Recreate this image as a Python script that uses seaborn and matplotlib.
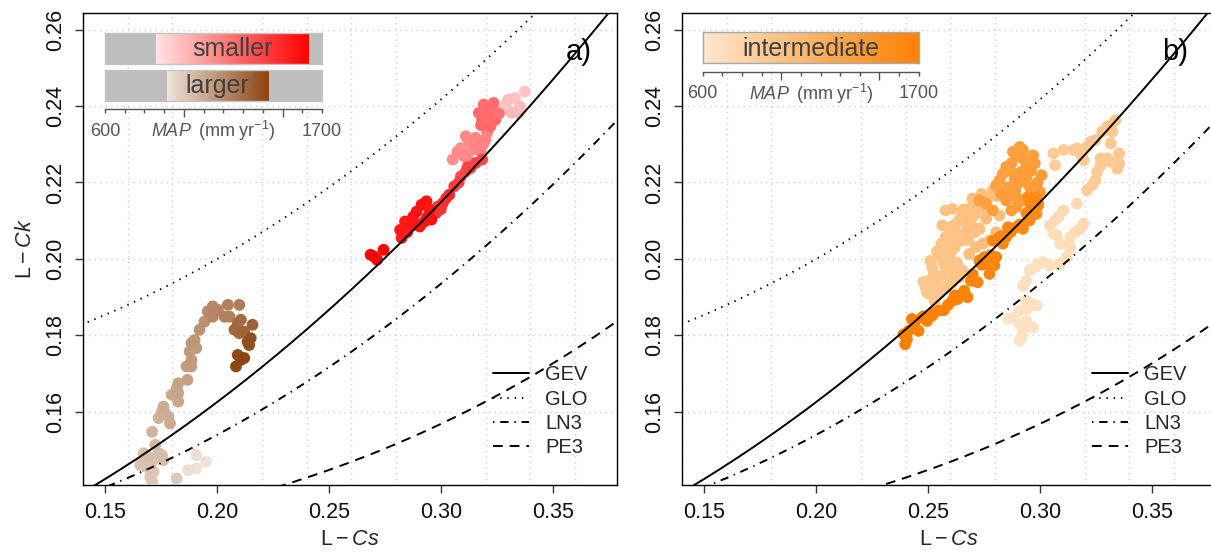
import numpy as np
import pandas as pd
import matplotlib
matplotlib.use("Agg")
import matplotlib.pyplot as plt
import seaborn as sns
from matplotlib.colors import LinearSegmentedColormap, Normalize

sns.set_theme(style="white")
plt.rcParams['font.family'] = ['Liberation Sans', 'DejaVu Sans']
plt.rcParams['mathtext.fontset'] = 'custom'
plt.rcParams['mathtext.rm'] = 'Liberation Sans'
plt.rcParams['mathtext.it'] = 'Liberation Sans:italic'
plt.rcParams['lines.scale_dashes'] = False

# ---------------------------------------------------------------- data
# smaller catchments (panel a, red)
small_lcs = [0.3273, 0.3303, 0.3332, 0.3354, 0.3376, 0.3317, 0.3347, 0.3290,
             0.3053, 0.3075, 0.3112, 0.3126, 0.3156, 0.3170, 0.3178, 0.3200, 0.3207,
             0.3090, 0.3100, 0.3140, 0.3150, 0.3190, 0.3120,
             0.3170, 0.3185, 0.3192, 0.3214, 0.3236, 0.3244, 0.3222, 0.3205,
             0.3230, 0.3180, 0.3260,
             0.3090, 0.3112, 0.3134, 0.3156, 0.3185, 0.3060, 0.3080, 0.3120,
             0.2979, 0.2987, 0.3009, 0.3024, 0.3038, 0.3000,
             0.2825, 0.2818, 0.2840, 0.2862, 0.2877, 0.2892, 0.2914, 0.2936,
             0.2950, 0.2906, 0.2928, 0.2958, 0.2850, 0.2890, 0.2940,
             0.2686, 0.2700, 0.2715, 0.2744]
small_lck = [0.2390, 0.2417, 0.2421, 0.2399, 0.2438, 0.2382, 0.2382, 0.2405,
             0.2260, 0.2281, 0.2321, 0.2308, 0.2317, 0.2290, 0.2281, 0.2312, 0.2330,
             0.2290, 0.2270, 0.2285, 0.2300, 0.2300, 0.2260,
             0.2382, 0.2364, 0.2404, 0.2386, 0.2408, 0.2364, 0.2347, 0.2370,
             0.2395, 0.2350, 0.2380,
             0.2216, 0.2229, 0.2238, 0.2251, 0.2260, 0.2190, 0.2200, 0.2240,
             0.2120, 0.2137, 0.2146, 0.2159, 0.2168, 0.2130,
             0.2055, 0.2076, 0.2098, 0.2085, 0.2111, 0.2124, 0.2142, 0.2151,
             0.2129, 0.2085, 0.2098, 0.2103, 0.2070, 0.2090, 0.2110,
             0.2011, 0.2007, 0.1998, 0.2024]
small_map = [990, 985, 975, 1000, 960, 1010, 995, 980,
             1150, 1160, 1170, 1165, 1180, 1190, 1200, 1175, 1185,
             1155, 1160, 1170, 1175, 1190, 1165,
             1260, 1270, 1250, 1265, 1255, 1275, 1280, 1265,
             1260, 1275, 1240,
             1380, 1390, 1400, 1410, 1395, 1420, 1415, 1405,
             1450, 1460, 1470, 1480, 1490, 1465,
             1540, 1545, 1550, 1555, 1560, 1565, 1570, 1575,
             1560, 1570, 1580, 1585, 1550, 1560, 1570,
             1620, 1625, 1630, 1632]

# larger catchments (panel a, brown)
large_lcs = [0.1907, 0.1870, 0.1951, 0.1907,
             0.1819, 0.1709, 0.1701, 0.1716, 0.1656, 0.1679, 0.1665, 0.1709,
             0.1672, 0.1694, 0.1738, 0.1753, 0.1760,
             0.1723, 0.1709, 0.1738, 0.1753, 0.1767, 0.1782, 0.1789, 0.1760,
             0.1797, 0.1826, 0.1819, 0.1826, 0.1826, 0.1867, 0.1863, 0.1885,
             0.1885, 0.1877, 0.1907, 0.1885, 0.1899, 0.1921, 0.1943, 0.1958,
             0.1980, 0.1980, 0.2003, 0.2033, 0.2048, 0.2055, 0.2099,
             0.2092, 0.2106, 0.2077, 0.2099, 0.2121, 0.2158,
             0.2143, 0.2150, 0.2136, 0.2092, 0.2106, 0.2084, 0.2121]
large_lck = [0.1453, 0.1448, 0.1470, 0.1487,
             0.1426, 0.1418, 0.1431, 0.1444, 0.1461, 0.1457, 0.1470, 0.1470,
             0.1492, 0.1483, 0.1492, 0.1487, 0.1474,
             0.1514, 0.1548, 0.1584, 0.1601, 0.1597, 0.1588, 0.1570, 0.1614,
             0.1645, 0.1627, 0.1662, 0.1649, 0.1675, 0.1684, 0.1719, 0.1719,
             0.1736, 0.1758, 0.1767, 0.1780, 0.1788, 0.1815, 0.1836, 0.1863,
             0.1876, 0.1849, 0.1867, 0.1849, 0.1880, 0.1849, 0.1880,
             0.1832, 0.1841, 0.1815, 0.1806, 0.1810, 0.1828,
             0.1775, 0.1793, 0.1784, 0.1749, 0.1736, 0.1719, 0.1741]
large_map = [925, 930, 920, 935,
             1000, 1005, 1010, 1015, 1020, 1020, 1025, 1025,
             1030, 1030, 1035, 1035, 1040,
             1060, 1070, 1080, 1090, 1090, 1095, 1100, 1100,
             1110, 1115, 1120, 1120, 1125, 1130, 1140, 1145,
             1150, 1155, 1160, 1165, 1170, 1180, 1190, 1200,
             1210, 1215, 1220, 1230, 1235, 1240, 1250,
             1300, 1305, 1310, 1320, 1330, 1340,
             1390, 1395, 1400, 1410, 1415, 1420, 1428]

# intermediate catchments (panel b, orange)
inter_lcs = [
    # low MAP, lower branch
    0.3166, 0.3106, 0.3083, 0.3068, 0.3046, 0.3061, 0.3076, 0.3091, 0.3136,
    0.3159, 0.3181, 0.3196, 0.3136, 0.3121, 0.3091, 0.3046, 0.3016, 0.2993,
    0.2978, 0.2955, 0.2940, 0.2925, 0.2940, 0.2970, 0.2986, 0.2940, 0.2910,
    0.2888, 0.2910, 0.2925, 0.2918, 0.2940, 0.2970, 0.2858, 0.2910,
    # low MAP, upper branch
    0.3061, 0.3068, 0.3106, 0.3151, 0.3166, 0.3189, 0.3196, 0.3211, 0.3227,
    0.3249, 0.3279, 0.3302, 0.3317, 0.3339, 0.3324, 0.3317, 0.3355, 0.3355,
    0.3347, 0.3317, 0.3302, 0.3272, 0.3272, 0.3257, 0.3249, 0.3234, 0.3211,
    # mid MAP
    0.2579, 0.2609, 0.2699, 0.2684, 0.2654, 0.2639, 0.2745, 0.2820, 0.2564,
    0.2594, 0.2624, 0.2654, 0.2609, 0.2579, 0.2564, 0.2594, 0.2624, 0.2654,
    0.2639, 0.2609, 0.2579, 0.2549, 0.2519, 0.2526, 0.2504, 0.2519, 0.2549,
    0.2579, 0.2609, 0.2684, 0.2714, 0.2745, 0.2775, 0.2805, 0.2730, 0.2699,
    0.2760, 0.2699, 0.2669, 0.2489, 0.2496,
    0.2535, 0.2555, 0.2570, 0.2600, 0.2620, 0.2640, 0.2670, 0.2690, 0.2720,
    0.2750, 0.2770, 0.2560, 0.2590, 0.2620, 0.2660, 0.2700, 0.2740, 0.2790,
    0.2810, 0.2500, 0.2530, 0.2480, 0.2510, 0.2540, 0.2600, 0.2630, 0.2680,
    0.2710,
    # upper-mid MAP
    0.2910, 0.2925, 0.2895, 0.2970, 0.2978, 0.2873, 0.2850, 0.2835, 0.2820,
    0.2805, 0.2858, 0.2888, 0.2918, 0.2940, 0.2955, 0.2963, 0.2925, 0.2895,
    0.2873, 0.2850, 0.2827, 0.3001, 0.2993, 0.2986, 0.3008, 0.2760, 0.2790,
    0.2730, 0.2870, 0.2890, 0.2910, 0.2940, 0.2960, 0.2990, 0.2930, 0.2880,
    0.2900, 0.2860,
    # high MAP
    0.2398, 0.2406, 0.2391, 0.2413, 0.2428, 0.2458, 0.2473, 0.2496, 0.2519,
    0.2549, 0.2571, 0.2609, 0.2632, 0.2654, 0.2677, 0.2662, 0.2692, 0.2722,
    0.2730, 0.2752, 0.2767, 0.2775, 0.2797, 0.2805, 0.2790, 0.2820, 0.2835,
    0.2850, 0.2858, 0.2895, 0.2925, 0.2955, 0.2978, 0.2993, 0.2970, 0.2948,
    0.2440, 0.2480, 0.2530, 0.2590, 0.2620, 0.2700, 0.2740, 0.2780, 0.2830,
    0.2870, 0.2910, 0.2940, 0.2960, 0.2985]
inter_lck = [
    0.2145, 0.2127, 0.2110, 0.2101, 0.2088, 0.2066, 0.2062, 0.2040, 0.2057,
    0.2070, 0.2079, 0.2092, 0.2031, 0.2005, 0.1987, 0.1983, 0.1992, 0.1987,
    0.1978, 0.1970, 0.1943, 0.1930, 0.1891, 0.1882, 0.1878, 0.1869, 0.1865,
    0.1847, 0.1830, 0.1812, 0.1795, 0.1838, 0.1821, 0.1843, 0.1786,
    0.2276, 0.2245, 0.2285, 0.2285, 0.2289, 0.2267, 0.2258, 0.2293, 0.2306,
    0.2311, 0.2333, 0.2346, 0.2350, 0.2363, 0.2333, 0.2302, 0.2276, 0.2250,
    0.2236, 0.2254, 0.2263, 0.2263, 0.2245, 0.2228, 0.2206, 0.2193, 0.2180,
    0.2127, 0.2131, 0.2158, 0.2127, 0.2114, 0.2101, 0.2131, 0.2114, 0.2088,
    0.2083, 0.2070, 0.2048, 0.2040, 0.2057, 0.2022, 0.2005, 0.1987, 0.1970,
    0.1952, 0.1961, 0.1978, 0.2005, 0.1978, 0.1961, 0.1943, 0.1926, 0.1908,
    0.1926, 0.1939, 0.2013, 0.2031, 0.2040, 0.2048, 0.2070, 0.2079, 0.2110,
    0.2105, 0.2083, 0.2070, 0.1926, 0.1913,
    0.1935, 0.1955, 0.1990, 0.2015, 0.2030, 0.2060, 0.2090, 0.2100, 0.2120,
    0.2150, 0.2160, 0.2040, 0.2060, 0.2090, 0.2130, 0.2140, 0.2170, 0.2180,
    0.2165, 0.1910, 0.1890, 0.1940, 0.1995, 0.2020, 0.1945, 0.1990, 0.2050,
    0.2070,
    0.2293, 0.2285, 0.2267, 0.2271, 0.2250, 0.2250, 0.2241, 0.2223, 0.2206,
    0.2193, 0.2188, 0.2210, 0.2228, 0.2241, 0.2188, 0.2171, 0.2153, 0.2136,
    0.2127, 0.2153, 0.2171, 0.2175, 0.2145, 0.2118, 0.2219, 0.2145, 0.2127,
    0.2153, 0.2230, 0.2180, 0.2200, 0.2210, 0.2230, 0.2200, 0.2260, 0.2280,
    0.2160, 0.2170,
    0.1777, 0.1790, 0.1803, 0.1812, 0.1843, 0.1812, 0.1847, 0.1838, 0.1852,
    0.1865, 0.1866, 0.1891, 0.1895, 0.1908, 0.1900, 0.1917, 0.1943, 0.1939,
    0.1996, 0.2005, 0.1987, 0.1961, 0.1983, 0.2005, 0.2048, 0.2057, 0.2040,
    0.2057, 0.2083, 0.2083, 0.2079, 0.2101, 0.2118, 0.2140, 0.2153, 0.2162,
    0.1830, 0.1850, 0.1860, 0.1880, 0.1905, 0.1960, 0.1985, 0.2010, 0.2060,
    0.2070, 0.2090, 0.2120, 0.2140, 0.2160]
inter_map = (
    [760, 750, 745, 740, 735, 730, 725, 720, 730, 740, 750, 760, 720, 715, 710,
     705, 700, 700, 695, 690, 690, 685, 680, 680, 680, 675, 675, 670, 670, 665,
     665, 670, 670, 665, 660]
    + [900, 890, 910, 915, 920, 925, 930, 935, 940, 945, 950, 955, 960, 965,
       955, 950, 945, 940, 935, 930, 925, 920, 915, 910, 905, 900, 895]
    + [1000, 1010, 1020, 1015, 1010, 1005, 1025, 1040, 990, 995, 1000, 1005,
       1000, 995, 980, 980, 985, 990, 985, 980, 975, 970, 965, 960,
       960, 955, 955, 960, 965, 1030, 1040, 1050, 1060, 1070, 1050, 1030,
       1060, 1035, 1025, 950, 950,
       965, 970, 975, 985, 990, 995, 1005, 1010, 1020, 1030, 1040, 990, 995,
       1005, 1015, 1025, 1035, 1045, 1050, 955, 960, 955, 965, 975, 970, 985,
       1000, 1010]
    + [1380, 1385, 1370, 1390, 1395, 1365, 1360, 1355, 1350, 1345, 1360, 1370,
       1375, 1380, 1390, 1395, 1400, 1405, 1400, 1395, 1390, 1410, 1415, 1420,
       1405, 1380, 1385, 1375, 1370, 1385, 1390, 1395, 1400, 1410, 1380, 1375,
       1395, 1385]
    + [1700, 1700, 1695, 1695, 1690, 1690, 1685, 1685, 1680, 1680, 1675, 1675,
       1670, 1670, 1665, 1665, 1660, 1660, 1640, 1640, 1635, 1635, 1630, 1630,
       1620, 1620, 1615, 1615, 1610, 1605, 1600, 1600, 1595, 1590, 1590, 1585,
       1690, 1685, 1680, 1675, 1670, 1655, 1645, 1635, 1620, 1612, 1605, 1598,
       1592, 1588])

# L-moment ratio relationships: tau4 as polynomial in tau3
GEV_COEF = [0.10701, 0.11090, 0.84838, -0.06669, 0.00567, -0.04208, 0.03763]
GLO_COEF = [1 / 6, 0.0, 5 / 6]
LN3_COEF = [0.12282, 0.0, 0.77518, 0.0, 0.12279, 0.0, -0.13638, 0.0, 0.11368]
PE3_COEF = [0.12240, 0.0, 0.30115, 0.0, 0.95812, 0.0, -0.57488, 0.0, 0.19383]
DIST_NAMES = ["GEV", "GLO", "LN3", "PE3"]
DIST_STYLES = ["-", (0, (1.0, 4.2)), (0, (1.0, 4.2, 6.0, 4.2)), (0, (7.0, 5.0))]

# colour ramps along MAP (mm/yr)
MAP_RANGE = (600, 1700)
red_cmap = LinearSegmentedColormap.from_list("red_ramp", ["#FFE4E4", "#FF0000"])
brown_cmap = LinearSegmentedColormap.from_list("brown_ramp", ["#F0E4DA", "#8B4513"])
orange_cmap = LinearSegmentedColormap.from_list("orange_ramp", ["#FEE8D0", "#FF8000"])
RED_LIMS = (857, 1632)
BROWN_LIMS = (913, 1428)
ORANGE_LIMS = (600, 1700)

XLIM = (0.1412, 0.3788)
YLIM = (0.1409, 0.2644)

# ---------------------------------------------------------------- figure
fig = plt.figure(figsize=(12.11, 5.57), dpi=100)
W, H = 1211, 557
ax_a = fig.add_axes([83 / W, 72 / H, 534 / W, 472.3 / H])
ax_b = fig.add_axes([682 / W, 72 / H, 534 / W, 472.3 / H])

tau3 = np.linspace(0.10, 0.40, 400)
curves = {n: np.polynomial.polynomial.polyval(tau3, c)
          for n, c in zip(DIST_NAMES, [GEV_COEF, GLO_COEF, LN3_COEF, PE3_COEF])}

TICK_FS = 15.5


def style_axes(ax):
    ax.set_xlim(*XLIM)
    ax.set_ylim(*YLIM)
    ax.set_facecolor("white")
    ax.set_xticks([0.15, 0.20, 0.25, 0.30, 0.35])
    ax.set_xticklabels(["0.15", "0.20", "0.25", "0.30", "0.35"])
    ax.set_xticks(np.arange(0.14, 0.38, 0.02), minor=True)
    ax.set_yticks([0.16, 0.18, 0.20, 0.22, 0.24, 0.26])
    ax.set_yticklabels(["0.16", "0.18", "0.20", "0.22", "0.24", "0.26"],
                       rotation=90, va="center")
    ax.grid(False)
    ax.xaxis.grid(True, which="minor", color="#CFCFCF", linestyle=(0, (1, 3)), lw=1.0)
    ax.yaxis.grid(True, which="major", color="#CFCFCF", linestyle=(0, (1, 3)), lw=1.0)
    ax.tick_params(axis="both", which="major", direction="out", length=5.5,
                   width=1.0, color="#333333", labelsize=TICK_FS, pad=7,
                   labelcolor="#111111", bottom=True, left=True)
    ax.tick_params(axis="x", which="minor", length=0)
    for s in ax.spines.values():
        s.set_color("black")
        s.set_linewidth(1.0)
    ax.set_axisbelow(True)


def draw_curves(ax):
    handles = []
    for name, ls in zip(DIST_NAMES, DIST_STYLES):
        ln, = ax.plot(tau3, curves[name], color="black", lw=1.4, linestyle=ls,
                      zorder=5, label=name)
        handles.append(ln)
    ax.legend(handles=handles, loc="lower left", bbox_to_anchor=(0.767, 0.059),
              frameon=False, fontsize=14.5, handlelength=1.8, handletextpad=0.8,
              labelspacing=0.26, borderpad=0, borderaxespad=0)


def scatter(ax, lcs, lck, mp, cmap, lims):
    df = pd.DataFrame({"lcs": lcs, "lck": lck, "MAP": mp})
    sns.scatterplot(data=df, x="lcs", y="lck", hue="MAP", palette=cmap,
                    hue_norm=Normalize(*lims), s=72, linewidth=0, alpha=1.0,
                    legend=False, ax=ax, zorder=3)


def ramp_bar(ax, rect, cmap, lims, text, grey):
    cax = ax.inset_axes(rect)
    grad = np.linspace(lims[0], lims[1], 256)[None, :]
    cax.imshow(grad, extent=(lims[0], lims[1], 0, 1), aspect="auto", cmap=cmap,
               vmin=lims[0], vmax=lims[1], interpolation="bilinear", zorder=2)
    cax.set_xlim(*MAP_RANGE)
    cax.set_ylim(0, 1)
    cax.set_facecolor("#BEBEBE" if grey else "white")
    cax.set_xticks([])
    cax.set_yticks([])
    for s in cax.spines.values():
        s.set_color("#C4C4C4" if grey else "#A8A8A8")
        s.set_linewidth(1.0)
    cax.text(sum(lims) / 2, 0.47, text, ha="center", va="center",
             fontsize=18, color="#3F3F3F", zorder=4)


def map_axis(ax, x0, width, y):
    tax = ax.inset_axes([x0, y, width, 0.0001])
    tax.set_xlim(*MAP_RANGE)
    tax.patch.set_alpha(0)
    for k in ("top", "left", "right"):
        tax.spines[k].set_visible(False)
    tax.spines["bottom"].set_color("#555555")
    tax.spines["bottom"].set_linewidth(1.0)
    tax.set_yticks([])
    tax.set_xticks([1000, 1500])
    tax.set_xticks(np.arange(600, 1701, 100), minor=True)
    tax.tick_params(axis="x", which="major", direction="out", length=6,
                    width=1.0, color="#555555", labelbottom=False, bottom=True)
    tax.tick_params(axis="x", which="minor", direction="out", length=3,
                    width=1.0, color="#555555", bottom=True)
    for xv, lab in [(600, "600"), (1700, "1700"),
                    (1150, r"$\mathit{MAP}\;\;\mathrm{(mm\;yr^{-1})}$")]:
        tax.annotate(lab, xy=(xv, 0), xycoords="data", xytext=(0, -16),
                     textcoords="offset points", ha="center", va="center",
                     fontsize=13, color="#555555")


# panel a ---------------------------------------------------------------
style_axes(ax_a)
scatter(ax_a, small_lcs, small_lck, small_map, red_cmap, RED_LIMS)
scatter(ax_a, large_lcs, large_lck, large_map, brown_cmap, BROWN_LIMS)
draw_curves(ax_a)
ax_a.set_xlabel(r"$\mathrm{L}-\mathit{Cs}$", fontsize=15.5, labelpad=4)
ax_a.set_ylabel(r"$\mathrm{L}-\mathit{Ck}$", fontsize=15.5, labelpad=6)
ax_a.text(0.953, 0.917, "a)", transform=ax_a.transAxes, ha="right",
          va="center", fontsize=21, color="black")
ramp_bar(ax_a, [0.0412, 0.8914, 0.4064, 0.0663], red_cmap, RED_LIMS, "smaller", True)
ramp_bar(ax_a, [0.0412, 0.8130, 0.4064, 0.0657], brown_cmap, BROWN_LIMS, "larger", True)
map_axis(ax_a, 0.0412, 0.4064, 0.796)

# panel b ---------------------------------------------------------------
style_axes(ax_b)
scatter(ax_b, inter_lcs, inter_lck, inter_map, orange_cmap, ORANGE_LIMS)
draw_curves(ax_b)
ax_b.set_xlabel(r"$\mathrm{L}-\mathit{Cs}$", fontsize=15.5, labelpad=4)
ax_b.set_ylabel("")
ax_b.text(0.948, 0.917, "b)", transform=ax_b.transAxes, ha="right",
          va="center", fontsize=21, color="black")
ramp_bar(ax_b, [0.0388, 0.8936, 0.4045, 0.0646], orange_cmap, ORANGE_LIMS,
         "intermediate", False)
map_axis(ax_b, 0.0388, 0.4045, 0.875)

fig.savefig("out.png", dpi=100)
